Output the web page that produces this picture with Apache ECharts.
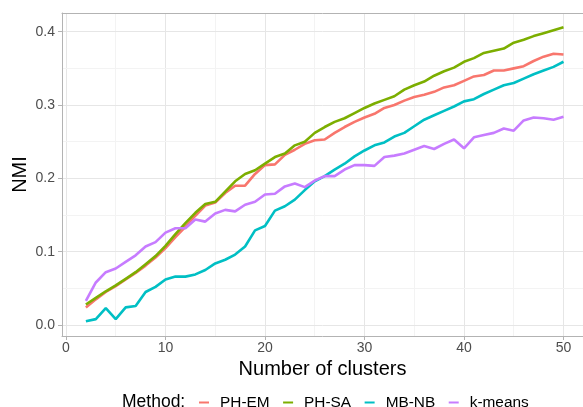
<!DOCTYPE html>
<html>
<head>
<meta charset="utf-8">
<script src="https://cdn.jsdelivr.net/npm/echarts@6/dist/echarts.min.js"></script>
<style>
html,body{margin:0;padding:0;background:#fff;}
#c{width:583px;height:407px;}
</style>
</head>
<body>
<div id="c"></div>
<script>
const clusters = [2,3,4,5,6,7,8,9,10,11,12,13,14,15,16,17,18,19,20,21,22,23,24,25,26,27,28,29,30,31,32,33,34,35,36,37,38,39,40,41,42,43,44,45,46,47,48,49,50];
const phEm = [0.024,0.035,0.045,0.053,0.062,0.071,0.081,0.092,0.105,0.120,0.134,0.149,0.163,0.167,0.180,0.190,0.190,0.206,0.218,0.219,0.232,0.239,0.247,0.252,0.253,0.262,0.270,0.277,0.283,0.288,0.296,0.300,0.306,0.311,0.314,0.318,0.324,0.327,0.333,0.339,0.341,0.347,0.347,0.350,0.353,0.360,0.366,0.370,0.369];
const phSa = [0.028,0.037,0.046,0.054,0.063,0.072,0.083,0.094,0.108,0.124,0.139,0.153,0.165,0.168,0.182,0.196,0.206,0.211,0.220,0.229,0.234,0.245,0.250,0.262,0.270,0.277,0.282,0.289,0.296,0.302,0.307,0.312,0.321,0.327,0.332,0.340,0.346,0.351,0.359,0.364,0.371,0.374,0.377,0.385,0.389,0.394,0.398,0.402,0.406];
const mbNb = [0.005,0.008,0.023,0.008,0.024,0.026,0.045,0.052,0.062,0.066,0.066,0.069,0.075,0.084,0.089,0.096,0.107,0.129,0.135,0.156,0.162,0.171,0.184,0.196,0.203,0.212,0.220,0.230,0.238,0.245,0.249,0.257,0.262,0.271,0.280,0.286,0.292,0.298,0.305,0.308,0.315,0.321,0.327,0.330,0.336,0.342,0.347,0.352,0.359];
const kMeans = [0.033,0.058,0.072,0.077,0.086,0.095,0.107,0.113,0.126,0.132,0.132,0.144,0.141,0.152,0.157,0.155,0.164,0.168,0.178,0.179,0.189,0.193,0.188,0.197,0.203,0.203,0.212,0.218,0.218,0.217,0.229,0.231,0.234,0.239,0.244,0.240,0.247,0.253,0.241,0.256,0.259,0.262,0.268,0.265,0.279,0.283,0.282,0.280,0.284];
const seriesNames = ['PH-EM','PH-SA','MB-NB','k-means'];
const xTicks = [0,10,20,30,40,50];
const xMinor = [5,15,25,35,45];
const yTicks = [0,0.1,0.2,0.3,0.4];
const yMinor = [0.05,0.15,0.25,0.35];

const colors = ['#F8766D','#7CAE00','#00BFC4','#C77CFF'];
const values = [phEm, phSa, mbNb, kMeans];
const font = 'Liberation Sans, Arial, sans-serif';
const border = '#B3B3B3';

const chart = echarts.init(document.getElementById('c'), null, {renderer:'canvas'});

const gridLines = [];
xTicks.forEach(v => gridLines.push({xAxis: v, lineStyle:{color:'#E6E6E6', width:1, type:'solid'}}));
xMinor.forEach(v => gridLines.push({xAxis: v, lineStyle:{color:'#F3F3F3', width:1, type:'solid'}}));
yTicks.forEach(v => gridLines.push({yAxis: v, lineStyle:{color:'#E6E6E6', width:1, type:'solid'}}));
yMinor.forEach(v => gridLines.push({yAxis: v, lineStyle:{color:'#F3F3F3', width:1, type:'solid'}}));

const series = [{
  type:'line', name:'__grid', data:[], z:0, silent:true,
  markLine:{silent:true, z:0, symbol:['none','none'], label:{show:false}, animation:false,
    emphasis:{disabled:true}, lineStyle:{type:'solid'}, data: gridLines}
}];
seriesNames.forEach((n,i) => {
  series.push({
    type:'line', name:n, z:10, clip:false,
    data: clusters.map((k,j)=>[k, values[i][j]]),
    showSymbol:false, symbol:'none',
    lineStyle:{color:colors[i], width:2.6},
    itemStyle:{color:colors[i]},
    emphasis:{disabled:true}
  });
});

chart.setOption({
  animation:false,
  backgroundColor:'#fff',
  textStyle:{fontFamily:font},
  title:{text:'Method:', left:117, top:388, textStyle:{fontFamily:font, fontSize:17.5, fontWeight:'normal', color:'#000'}},
  legend:{
    data: seriesNames, left:194, top:390, icon:'rect', itemWidth:10, itemHeight:2,
    itemGap:13.5, selectedMode:false,
    textStyle:{fontFamily:font, fontSize:15.4, color:'#000', padding:[0,0,0,6]}
  },
  grid:{left:62, right:0, top:13, bottom:71, show:false},
  xAxis:[{
    type:'value', min:-0.4, max:51.96,
    axisLine:{show:true, onZero:false, lineStyle:{color:border, width:1}}, splitLine:{show:false},
    axisTick:{show:true, customValues:xTicks, length:4, lineStyle:{color:border}},
    axisLabel:{customValues:xTicks, fontSize:14, color:'#4D4D4D', margin:5, fontFamily:font},
    name:'Number of clusters', nameLocation:'middle', nameGap:23,
    nameTextStyle:{fontSize:20, color:'#000', fontFamily:font}
  },{
    type:'value', position:'top', min:-0.4, max:51.96,
    axisLine:{show:true, onZero:false, lineStyle:{color:border, width:1}},
    axisTick:{show:false}, axisLabel:{show:false}, splitLine:{show:false}
  }],
  yAxis:{
    type:'value', min:-0.015, max:0.4255,
    axisLine:{show:true, onZero:false, lineStyle:{color:border, width:1}}, splitLine:{show:false},
    axisTick:{show:true, customValues:yTicks, length:4, lineStyle:{color:border}},
    axisLabel:{customValues:yTicks, fontSize:14, color:'#4D4D4D', margin:7, fontFamily:font,
      formatter: v => v.toFixed(1)},
    name:'NMI', nameLocation:'middle', nameGap:32, nameRotate:90, nameMoveOverlap:false,
    nameTextStyle:{fontSize:20, color:'#000', fontFamily:font}
  },
  series: series
});
</script>
</body>
</html>
